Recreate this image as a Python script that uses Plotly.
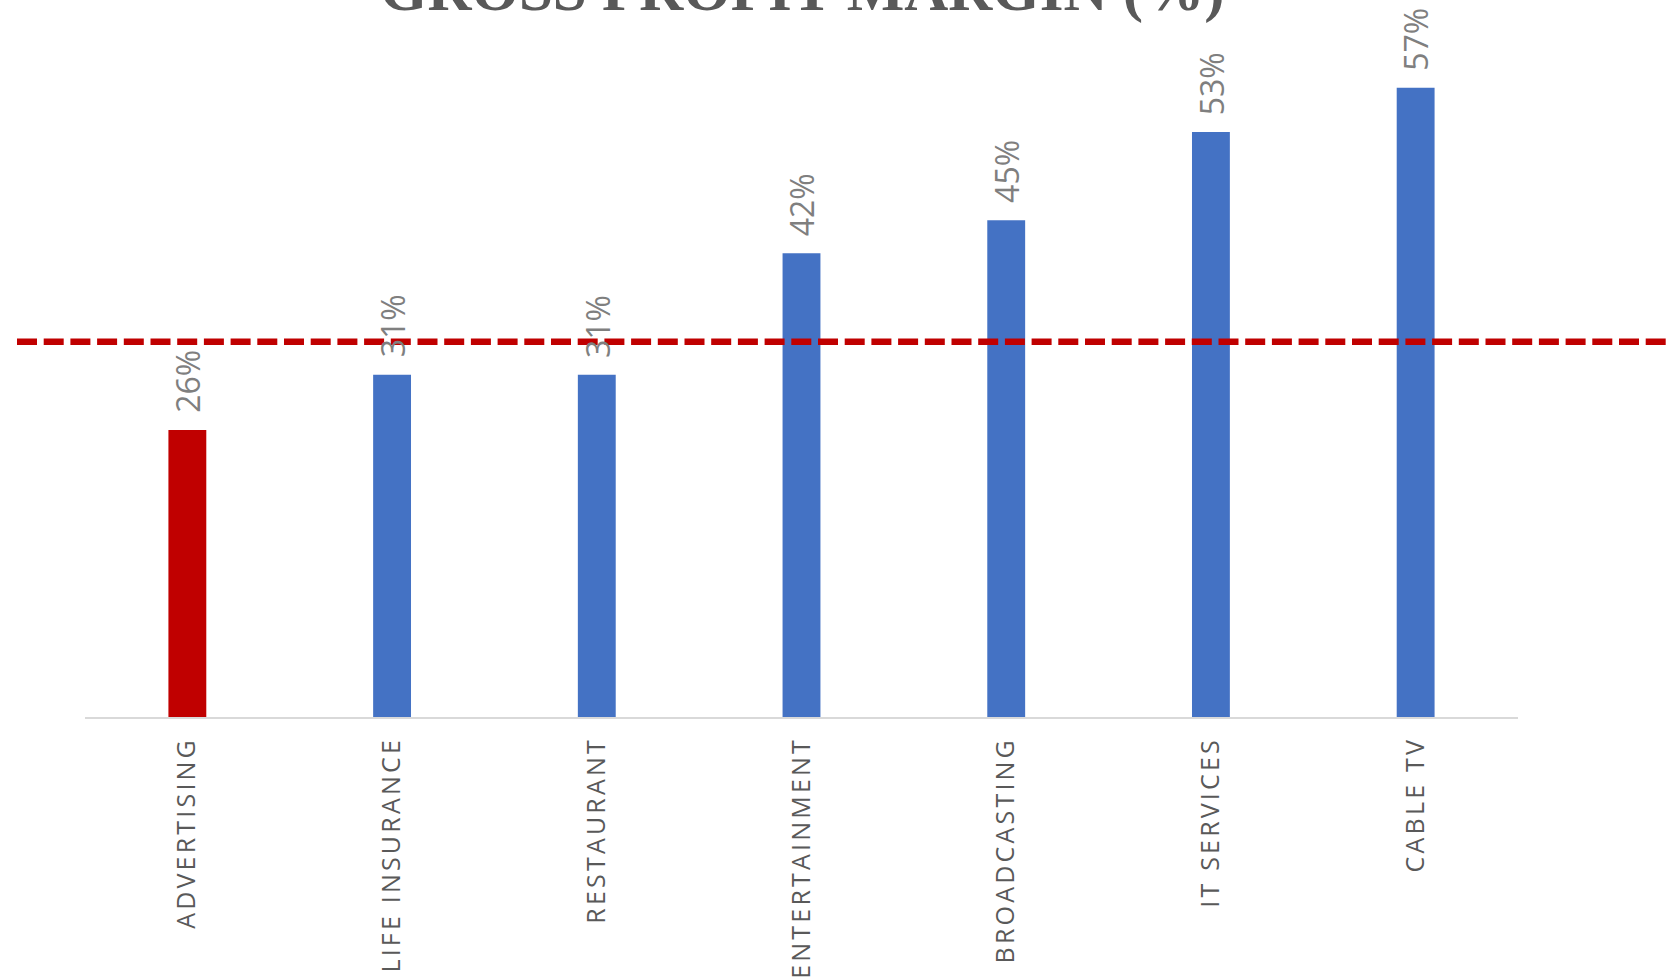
import plotly.graph_objects as go

categories = ["ADVERTISING", "LIFE INSURANCE", "RESTAURANT", "ENTERTAINMENT",
              "BROADCASTING", "IT SERVICES", "CABLE TV"]
margins = [26, 31, 31, 42, 45, 53, 57]
labels = ["26%", "31%", "31%", "42%", "45%", "53%", "57%"]
bar_colors = ["#C00000", "#4472C4", "#4472C4", "#4472C4", "#4472C4", "#4472C4", "#4472C4"]
average = 34
title_text = "GROSS PROFIT MARGIN (%)"

W, H = 1669, 979
ml, mr, mt, mb = 85, 1669 - 1518, 40, 979 - 717
plot_h = H - mt - mb
px_per_unit = 11.04
ymax = plot_h / px_per_unit

fig = go.Figure()
fig.add_trace(go.Bar(
    x=categories, y=margins, marker=dict(color=bar_colors, line=dict(width=0)),
    width=0.185, showlegend=False, hoverinfo="x+y",
))

for c, v, t in zip(categories, margins, labels):
    fig.add_annotation(x=c, y=v, xref="x", yref="y", text=t, showarrow=False,
                       textangle=-90, yanchor="bottom", xanchor="center", yshift=15,
                       font=dict(family="Open Sans", size=32, color="#7F7F7F"))

plot_w = W - ml - mr
fig.add_shape(type="line", xref="paper", yref="y",
              x0=(17 - ml) / plot_w, x1=(W + 20 - ml) / plot_w, y0=average, y1=average,
              line=dict(color="#C00000", width=6.5, dash="20px,6.7px"), layer="above")

fig.add_annotation(x=0.5, y=1, xref="paper", yref="paper", yanchor="bottom", yshift=14,
                   text="<b>" + title_text + "</b>", showarrow=False,
                   font=dict(family="Liberation Serif", size=61, color="#595959"))

fig.update_layout(
    width=W, height=H, margin=dict(l=ml, r=mr, t=mt, b=mb, autoexpand=False),
    paper_bgcolor="white", plot_bgcolor="white",
    xaxis=dict(showline=True, linecolor="#D9D9D9", linewidth=2, ticks="", tickangle=-90,
               showgrid=False, zeroline=False, ticklabelstandoff=8,
               tickfont=dict(family="Open Sans", size=25, color="#595959")),
    yaxis=dict(range=[0, ymax], visible=False, showgrid=False, zeroline=False),
)

post = """
document.querySelectorAll('.xtick text').forEach(function(t){
  t.style.letterSpacing = '3.2px';
});
"""
fig.write_html("out.html", post_script=post)
